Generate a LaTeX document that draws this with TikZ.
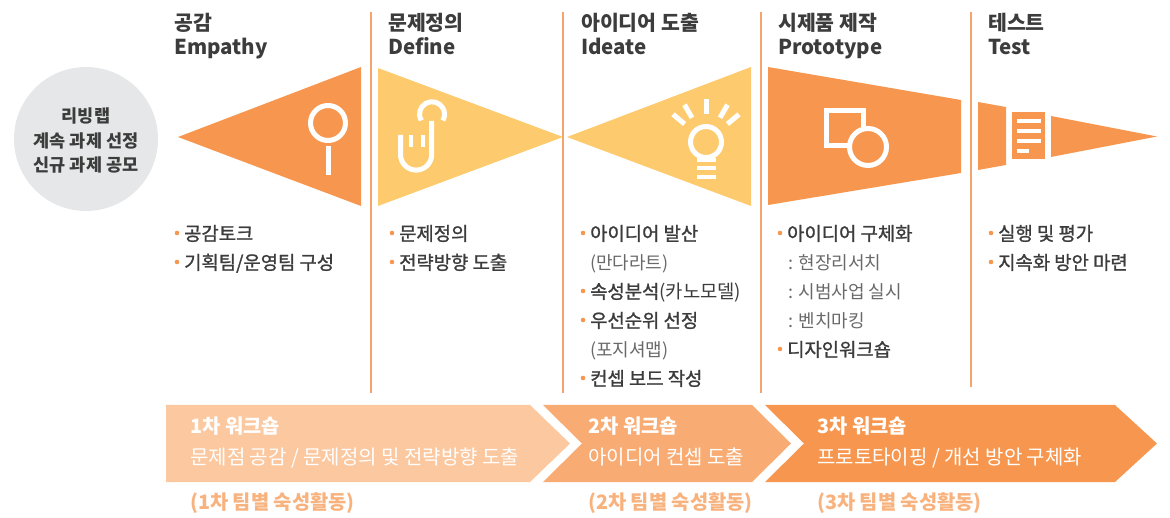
\documentclass[tikz,border=0pt]{standalone}
\usepackage{fontspec}
\setmainfont{Noto Sans CJK KR}
\newfontfamily\krmid[FakeBold=1.2]{Noto Sans CJK KR}
\definecolor{orng}{HTML}{F7974F}
\definecolor{yelw}{HTML}{FDCB6E}
\definecolor{peach}{HTML}{FBC8A0}
\definecolor{apricot}{HTML}{F8AB72}
\definecolor{sepline}{HTML}{F5A46B}
\definecolor{ink}{HTML}{3C3C3C}
\definecolor{subink}{HTML}{696969}
\definecolor{foot}{HTML}{F8B27E}
\definecolor{cloud}{HTML}{E6E7E8}

\begin{document}
\begin{tikzpicture}[x=1pt,y=-1pt,
  ttl/.style={anchor=west,inner sep=0,text=ink,font=\fontsize{20.5}{24}\selectfont\bfseries,text height=16pt,text depth=3pt},
  hub/.style={inner sep=0,text=ink,font=\fontsize{17.5}{20}\selectfont\bfseries,text height=14pt,text depth=3pt},
  item/.style={anchor=west,inner sep=0,text=ink,font=\krmid\fontsize{18.8}{22}\selectfont,text height=15pt,text depth=2pt},
  sub/.style={anchor=west,inner sep=0,text=subink,font=\fontsize{18}{22}\selectfont,text height=15pt,text depth=2pt},
  band/.style={anchor=west,inner sep=0,text=white,font=\fontsize{20}{24}\selectfont,text height=16pt,text depth=3pt},
  bandhead/.style={band,font=\fontsize{19.8}{24}\selectfont\bfseries},
  iconline/.style={white,line width=5pt}]
\useasboundingbox (0,0) rectangle (1170,518);

% column rules
\draw[sepline,line width=1.2pt] (371,12) -- (371,393);
\draw[sepline,line width=1.2pt] (563,12) -- (563,393);
\draw[sepline,line width=1.2pt] (761,12) -- (761,393);
\draw[sepline,line width=1.2pt] (971,12) -- (971,387);

% titles
\node[ttl] (emp1) at (174,24) {공감};
\node[ttl] (emp2) at (174,48) {Empathy};
\node[ttl] (def1) at (388,24) {문제정의};
\node[ttl] (def2) at (388,48) {Define};
\node[ttl] (ide1) at (581,24) {아이디어 도출};
\node[ttl] (ide2) at (581,48) {Ideate};
\node[ttl] (pro1) at (778,24) {시제품 제작};
\node[ttl] (pro2) at (778,48) {Prototype};
\node[ttl] (tst1) at (988,24) {테스트};
\node[ttl] (tst2) at (988,48) {Test};

% living lab circle
\node[circle,fill=cloud,minimum size=144pt,inner sep=0] (lab) at (86,139) {};
\node[hub] (lab1) at (86,117) {리빙랩};
\node[hub] (lab2) at (86,142) {계속 과제 선정};
\node[hub] (lab3) at (86,166) {신규 과제 공모};

% empathy
\fill[orng] (178,137) -- (361,67) -- (361,206) -- cycle;
\draw[iconline] (328,123) circle (17.5);
\draw[iconline] (328,146) -- (328,175);

% define
\fill[yelw] (378,68) -- (563,137) -- (378,206) -- cycle;
\draw[iconline] (421.2,120.5) arc[start angle=-210,end angle=30,radius=12.5];
\draw[iconline] (400.5,135) -- (400.5,154.5) arc[start angle=180,end angle=0,radius=15.6] -- (431.7,121);
\fill[white] (409,135) rectangle (413,147);
\fill[white] (420.5,135) rectangle (424.5,147);

% ideate
\fill[yelw] (567,137) -- (751,67) -- (751,206) -- cycle;
\coordinate (bulb) at (706,142);
\draw[iconline] (bulb) circle (15.5);
\foreach \a in {40,60,90,120,140}
  \draw[iconline] ([shift={(-\a:28)}]bulb) -- ([shift={(-\a:43)}]bulb);
\foreach \y in {160,168.5,177}
  \fill[white] (697,\y-2) rectangle (716,\y+2);

% prototype
\fill[orng] (768,67) -- (961,100) -- (961,173) -- (768,205) -- cycle;
\draw[iconline] (826.5,110.5) rectangle (863.5,145.5);
\draw[iconline,fill=orng] (868,147) circle (18.5);

% test
\fill[orng] (978,102) -- (1006,107) -- (1006,165) -- (978,170) -- cycle;
\fill[orng] (1012,112) rectangle (1045,159);
\foreach \y in {121,131,141}
  \fill[white] (1017,\y-2) rectangle (1041,\y+2);
\fill[white] (1017,149) rectangle (1029,153);
\fill[orng] (1051,116) -- (1157,136.5) -- (1051,157) -- cycle;

% activities
\node[item] (e1) at (184,234) {공감토크};
\node[item] (e2) at (184,263) {기획팀/운영팀 구성};
\node[item] (d1) at (399,234) {문제정의};
\node[item] (d2) at (399,263) {전략방향 도출};
\node[item] (i1) at (590,234) {아이디어 발산};
\node[sub]  (i2) at (590,263) {(만다라트)};
\node[item] (i3) at (590,292) {속성분석{\normalfont(카노모델)}};
\node[item] (i4) at (590,321) {우선순위 선정};
\node[sub]  (i5) at (590,350) {(포지셔맵)};
\node[item] (i6) at (590,379) {컨셉 보드 작성};
\node[item] (p1) at (787,234) {아이디어 구체화};
\node[sub]  (p2) at (788,263) {: 현장리서치};
\node[sub]  (p3) at (788,292) {: 시범사업 실시};
\node[sub]  (p4) at (788,321) {: 벤치마킹};
\node[item] (p5) at (787,350) {디자인워크숍};
\node[item] (t1) at (998,234) {실행 및 평가};
\node[item] (t2) at (998,263) {지속화 방안 마련};
\foreach \n in {e1,e2,d1,d2,i1,i3,i4,i6,p1,p5,t1,t2}
  \fill[orng] (\n.west) ++(-7,-1) circle (2.3);

% workshops
\fill[peach] (166,405) -- (530,405) -- (570,443.5) -- (530,482) -- (166,482) -- cycle;
\fill[apricot] (543,405) -- (752,405) -- (791,443.5) -- (752,482) -- (543,482) -- (582,443.5) -- cycle;
\fill[orng] (765,405) -- (1115,405) -- (1157,443.5) -- (1115,482) -- (765,482) -- (804,443.5) -- cycle;
\node[bandhead] (w1) at (190,427) {1차 워크숍};
\node[band] (w1b) at (190,458) {문제점 공감 / 문제정의 및 전략방향 도출};
\node[bandhead] (w2) at (588,427) {2차 워크숍};
\node[band] (w2b) at (588,458) {아이디어 컨셉 도출};
\node[bandhead] (w3) at (817,427) {3차 워크숍};
\node[band] (w3b) at (817,458) {프로토타이핑 / 개선 방안 구체화};
\node[bandhead,text=foot] (f1) at (190,503) {(1차 팀별 숙성활동)};
\node[bandhead,text=foot] (f2) at (588,503) {(2차 팀별 숙성활동)};
\node[bandhead,text=foot] (f3) at (817,503) {(3차 팀별 숙성활동)};
\end{tikzpicture}
\end{document}
